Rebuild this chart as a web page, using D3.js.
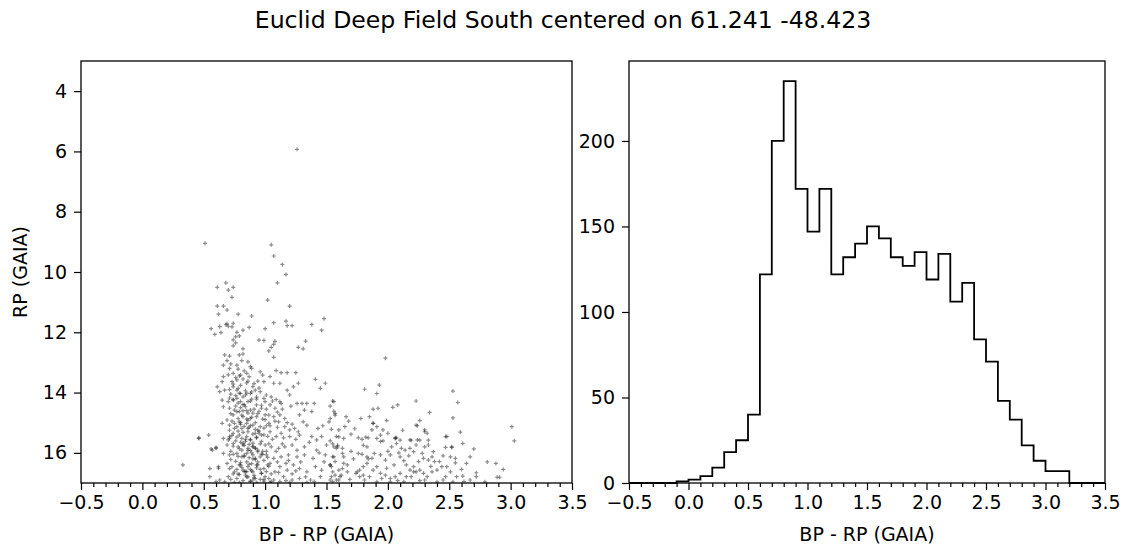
<!DOCTYPE html>
<html>
<head>
<meta charset="utf-8">
<script src="https://cdn.jsdelivr.net/npm/d3@7"></script>
<style>
  body { margin: 0; background: #fff; }
  text { font-family: "DejaVu Sans", sans-serif; fill: #000; }
</style>
</head>
<body>
<div id="chart"></div>
<script>
// ---- data ----
var title = "Euclid Deep Field South centered on 61.241 -48.423";

// colour-magnitude diagram, [BP-RP, RP]
var brightStars = [
  [1.26, 5.93], [0.51, 9.05], [1.05, 9.10], [1.07, 9.47], [1.14, 9.75], [1.17, 10.08],
  [1.10, 10.36], [0.68, 10.36], [0.61, 10.51], [0.70, 10.60], [0.74, 10.51], [0.73, 10.84],
  [1.02, 10.93], [1.20, 11.13], [0.61, 11.13], [0.66, 11.13], [0.69, 11.26], [0.62, 11.40],
  [0.78, 11.40], [0.89, 11.46], [1.48, 11.55], [0.56, 11.88], [0.59, 12.07], [0.63, 11.81],
  [0.64, 12.01], [0.68, 11.75], [0.69, 11.72], [0.70, 11.80], [0.73, 11.82], [0.74, 11.70],
  [0.82, 11.93], [0.87, 11.84], [0.77, 12.00], [0.76, 12.15], [0.79, 12.12], [0.74, 12.25],
  [0.76, 12.35], [0.74, 12.45], [1.07, 11.68], [1.17, 11.63], [1.18, 11.78], [1.22, 11.78],
  [1.38, 11.74], [1.46, 11.93], [1.00, 11.88], [0.95, 12.26], [0.99, 12.27], [1.08, 12.30],
  [1.07, 12.40], [1.05, 12.50], [1.33, 12.29], [1.27, 12.50], [1.31, 12.55], [0.82, 12.55],
  [1.98, 12.86]
];

var blueStars = [
  [0.33, 16.40], [0.46, 15.52], [0.46, 15.50], [0.54, 15.41], [0.56, 15.87], [0.60, 15.85],
  [0.55, 16.52], [0.55, 16.79], [0.62, 16.51], [0.60, 16.95], [0.63, 16.90], [0.57, 15.91],
  [0.60, 15.82], [0.62, 16.46], [0.61, 13.81], [0.63, 13.97], [0.65, 14.25], [0.65, 15.02],
  [0.66, 15.52], [0.66, 16.02], [0.65, 13.64], [0.66, 13.47], [0.66, 13.09], [0.66, 14.47]
];

var coreStars = [
  [0.67, 12.75], [0.71, 12.79], [0.69, 12.94], [0.79, 12.75], [0.82, 12.72], [0.81, 12.94],
  [0.86, 12.98], [0.88, 13.14], [0.77, 13.09], [0.71, 13.20], [0.74, 13.36], [0.80, 13.42],
  [0.85, 13.36], [0.89, 13.20], [0.96, 13.31], [0.98, 13.42], [0.99, 13.64], [0.73, 13.64],
  [0.77, 13.58], [0.67, 13.92], [0.74, 13.81], [0.77, 13.92], [0.80, 14.03], [0.82, 14.14],
  [0.77, 14.19], [0.88, 14.03], [0.92, 13.92], [0.96, 13.97], [0.99, 14.19], [0.70, 14.30],
  [0.74, 14.23], [0.80, 14.30], [0.86, 14.30], [0.71, 14.52], [0.75, 14.58], [0.79, 14.63],
  [0.84, 14.47], [0.88, 14.58], [0.93, 14.41], [0.97, 14.52], [0.74, 14.74], [0.78, 14.86],
  [0.82, 14.80], [0.88, 14.86], [0.93, 14.80], [1.00, 14.74], [0.69, 14.91], [0.71, 15.08],
  [0.77, 15.13], [0.81, 15.19], [0.85, 15.02], [0.90, 15.08], [0.96, 15.13], [0.74, 15.35],
  [0.79, 15.41], [0.85, 15.46], [0.92, 15.35], [0.97, 15.41], [0.70, 15.57], [0.71, 15.46],
  [0.69, 15.74], [0.74, 15.69], [0.78, 15.80], [0.82, 15.74], [0.86, 15.85], [0.90, 15.80],
  [0.94, 15.91], [1.00, 15.74], [0.71, 16.07], [0.77, 16.02], [0.81, 16.13], [0.85, 16.02],
  [0.90, 16.07], [0.96, 16.13], [0.69, 16.35], [0.73, 16.46], [0.75, 16.63], [0.79, 16.40],
  [0.82, 16.57], [0.86, 16.46], [0.90, 16.63], [0.94, 16.40], [0.99, 16.52], [0.70, 16.79],
  [0.77, 16.85], [0.84, 16.74], [0.92, 16.85], [1.00, 16.79], [0.67, 16.96], [0.79, 16.98],
  [0.93, 16.98],
  [0.72, 13.05], [0.78, 13.22], [0.83, 13.28], [0.70, 13.41], [0.76, 13.50], [0.82, 13.55],
  [0.87, 13.47], [0.79, 13.45], [0.74, 13.72], [0.80, 13.76], [0.85, 13.68], [0.90, 13.80],
  [0.78, 13.86], [0.71, 13.90], [0.84, 13.94], [0.94, 13.62], [0.72, 14.05], [0.76, 14.10],
  [0.79, 14.02], [0.84, 14.08], [0.71, 14.18], [0.74, 14.25], [0.78, 14.35], [0.82, 14.40],
  [0.89, 14.22], [0.93, 14.15], [0.76, 14.45], [0.80, 14.50], [0.85, 14.60], [0.90, 14.68],
  [0.77, 14.63], [0.72, 14.70], [0.81, 14.75], [0.86, 14.92], [0.95, 14.62], [0.98, 14.88],
  [0.73, 14.95], [0.79, 14.97], [0.75, 15.02], [0.80, 15.06], [0.83, 15.12], [0.87, 15.15],
  [0.92, 15.22], [0.75, 15.19], [0.71, 15.25], [0.78, 15.28], [0.82, 15.32], [0.86, 15.19],
  [0.95, 15.28], [0.99, 15.18], [0.73, 15.42], [0.77, 15.48], [0.81, 15.52], [0.88, 15.55],
  [0.93, 15.48], [0.71, 15.52], [0.76, 15.60], [0.80, 15.65], [0.84, 15.62], [0.90, 15.68],
  [0.97, 15.62], [0.74, 15.78], [0.79, 15.86], [0.81, 15.91], [0.83, 15.75], [0.88, 15.92],
  [0.92, 15.84], [0.98, 15.95], [0.72, 15.95], [0.74, 16.05], [0.78, 16.12], [0.83, 16.08],
  [0.87, 16.16], [0.92, 16.22], [0.97, 16.04], [0.72, 16.22], [0.76, 16.28], [0.80, 16.32],
  [0.85, 16.30], [0.89, 16.36], [0.94, 16.30], [0.99, 16.25], [0.71, 16.52], [0.77, 16.55],
  [0.81, 16.48], [0.84, 16.62], [0.88, 16.55], [0.93, 16.50], [0.97, 16.68], [0.74, 16.70],
  [0.79, 16.72], [0.86, 16.80], [0.91, 16.75], [0.96, 16.88], [0.72, 16.88], [0.82, 16.92],
  [0.88, 16.95], [0.99, 16.94], [0.75, 16.98], [0.85, 16.62], [0.90, 16.20]
];

// extra stars in the crowded faint part of the core
var crowdStars = [
  [0.86, 13.62], [0.91, 13.70], [0.89, 13.98], [0.85, 14.02], [0.93, 14.22], [0.88, 14.28],
  [0.83, 14.40], [0.91, 14.55], [0.86, 14.68], [0.94, 14.70], [0.89, 14.82], [0.85, 14.88],
  [0.92, 15.00], [0.88, 15.10], [0.94, 15.25], [0.86, 15.30], [0.90, 15.38], [0.84, 15.55],
  [0.88, 15.58], [0.93, 15.50], [0.96, 15.70], [0.87, 15.72], [0.90, 15.78], [0.86, 15.92],
  [0.94, 15.96], [0.89, 16.00], [0.83, 16.12], [0.92, 16.18], [0.98, 16.05], [0.87, 16.38],
  [0.93, 16.40], [0.89, 16.60], [0.97, 16.68], [0.85, 16.80], [0.91, 16.82], [0.99, 16.88],
  [0.88, 16.94], [1.01, 16.62], [1.03, 16.45], [1.01, 15.95], [1.03, 15.70], [0.99, 15.40],
  [1.01, 15.10], [1.00, 14.90], [1.03, 14.75], [0.97, 14.42], [1.00, 14.30], [0.95, 13.85],
  [0.82, 14.60], [0.80, 15.00], [0.82, 15.68], [0.80, 16.40], [0.83, 16.62], [0.78, 16.70],
  [0.95, 15.35], [0.92, 15.85], [0.96, 16.55], [0.90, 16.90], [1.05, 16.95], [1.02, 16.15]
];

var midStars = [
  [1.03, 12.62], [1.07, 12.83], [1.09, 13.27], [1.13, 13.34], [1.18, 13.34], [1.25, 13.34],
  [1.04, 13.47], [1.07, 13.69], [1.12, 13.69], [1.41, 13.56], [1.49, 13.69], [1.01, 14.08],
  [1.05, 14.14], [1.09, 14.23], [1.12, 14.30], [1.18, 13.92], [1.20, 14.08], [1.23, 13.81],
  [1.27, 13.69], [1.45, 13.86], [1.04, 14.41], [1.08, 14.52], [1.13, 14.36], [1.26, 14.36],
  [1.30, 14.36], [1.34, 14.36], [1.40, 14.36], [1.56, 14.30], [1.32, 14.58], [1.38, 14.63],
  [1.07, 14.80], [1.12, 14.74], [1.16, 14.86], [1.28, 14.74], [1.53, 14.86], [1.57, 14.69],
  [1.03, 15.02], [1.11, 14.97], [1.16, 15.13], [1.20, 15.24], [1.24, 15.19], [1.31, 14.97],
  [1.34, 15.08], [1.43, 15.19], [1.52, 14.97], [1.04, 15.30], [1.09, 15.46], [1.13, 15.35],
  [1.20, 15.46], [1.28, 15.41], [1.38, 15.46], [1.46, 15.46], [1.42, 15.57], [1.58, 15.46],
  [1.05, 15.80], [1.11, 15.85], [1.16, 15.80], [1.22, 15.74], [1.26, 15.91], [1.32, 15.80],
  [1.42, 15.91], [1.50, 15.74], [1.58, 15.85], [1.01, 16.07], [1.07, 16.18], [1.13, 16.13],
  [1.19, 16.07], [1.26, 16.13], [1.32, 16.07], [1.39, 16.18], [1.49, 16.07], [1.56, 16.13],
  [1.04, 16.35], [1.08, 16.63], [1.12, 16.46], [1.18, 16.57], [1.23, 16.40], [1.28, 16.52],
  [1.34, 16.63], [1.41, 16.46], [1.46, 16.57], [1.53, 16.40], [1.60, 16.57], [1.07, 16.90],
  [1.15, 16.79], [1.22, 16.90], [1.28, 16.85], [1.37, 16.90], [1.45, 16.79], [1.53, 16.90],
  [1.04, 16.98], [1.20, 16.98], [1.34, 16.98], [1.02, 16.40], [1.05, 16.70], [1.10, 16.30],
  [1.02, 15.45], [1.06, 15.55], [1.04, 15.10], [1.08, 14.95], [1.01, 14.55], [1.10, 14.65],
  [1.14, 15.70], [1.17, 16.35], [1.03, 16.85], [1.12, 16.95], [1.18, 15.00], [1.22, 16.70],
  [1.25, 15.55],
  [1.81, 13.89], [1.55, 14.28], [1.53, 14.45], [1.56, 14.62], [1.57, 14.75], [1.66, 14.80],
  [1.78, 14.86], [1.65, 15.13], [1.70, 15.38], [1.60, 15.24], [1.60, 15.47], [1.54, 15.22],
  [1.53, 15.60], [1.55, 15.70], [1.59, 15.80], [1.64, 15.52], [1.76, 15.50], [1.79, 15.55],
  [1.82, 15.48], [1.84, 15.50], [1.80, 15.75], [1.83, 15.80], [1.76, 16.02], [1.79, 16.05],
  [1.83, 16.13], [1.84, 16.20], [1.83, 16.35], [1.80, 16.46], [1.77, 16.57], [1.75, 16.63],
  [1.74, 16.68], [1.77, 16.79], [1.80, 16.74], [1.81, 16.90], [1.59, 15.75], [1.56, 15.80],
  [1.63, 15.85], [1.63, 16.02], [1.64, 16.13], [1.64, 16.35], [1.67, 16.40], [1.67, 16.63],
  [1.63, 16.52], [1.62, 16.74], [1.61, 16.79], [1.60, 16.90], [1.55, 16.13], [1.57, 16.29],
  [1.54, 16.46], [1.53, 16.40], [1.55, 16.63], [1.57, 16.74], [1.58, 16.90], [1.55, 16.95],
  [1.54, 16.79],
  [1.06, 14.28], [1.14, 14.55], [1.21, 14.45], [1.10, 15.15], [1.15, 15.50], [1.22, 15.05],
  [1.27, 15.30], [1.09, 15.95], [1.19, 16.25], [1.29, 16.30], [1.36, 15.65], [1.44, 16.00],
  [1.11, 16.65], [1.25, 16.60], [1.33, 16.80], [1.40, 16.95], [1.17, 16.92], [1.48, 16.30],
  [1.70, 15.95], [1.72, 16.20], [1.69, 16.88], [1.73, 15.20], [1.68, 14.95], [1.47, 15.10]
];

var redStars = [
  [1.93, 13.75], [1.91, 14.03], [1.88, 14.55], [1.92, 14.52], [2.04, 14.49], [2.08, 14.41],
  [1.99, 14.93], [2.23, 14.28], [2.34, 14.66], [2.53, 13.95], [2.57, 14.33], [2.53, 14.84],
  [1.85, 14.80], [1.88, 15.02], [1.91, 15.13], [1.87, 15.24], [1.94, 15.41], [1.91, 15.52],
  [1.96, 15.24], [2.00, 15.35], [2.06, 15.52], [2.07, 15.69], [2.10, 15.58], [2.11, 15.85],
  [2.10, 16.13], [2.13, 16.26], [2.15, 16.40], [2.18, 16.57], [2.21, 16.63], [2.19, 16.79],
  [2.15, 16.79], [2.10, 16.68], [2.06, 16.79], [2.02, 16.85], [1.98, 16.74], [1.94, 16.68],
  [1.91, 16.46], [1.88, 16.57], [1.85, 16.79], [1.98, 16.24], [2.02, 16.07], [1.94, 16.07],
  [1.89, 16.02], [1.87, 16.18], [1.99, 16.51], [2.23, 15.08], [2.26, 14.93], [2.30, 15.24],
  [2.32, 15.35], [2.33, 15.58], [2.33, 15.74], [2.30, 15.80], [2.28, 16.02], [2.29, 16.18],
  [2.33, 16.24], [2.36, 16.13], [2.38, 16.29], [2.42, 16.29], [2.44, 16.46], [2.40, 16.57],
  [2.36, 16.63], [2.32, 16.79], [2.29, 16.68], [2.26, 16.57], [2.23, 16.63], [2.21, 16.46],
  [2.25, 16.29], [2.23, 15.74], [2.26, 15.58], [2.19, 15.58], [2.18, 15.85], [2.21, 15.96],
  [2.14, 15.91], [2.48, 15.46], [2.52, 15.80], [2.51, 16.13], [2.55, 16.18], [2.55, 16.33],
  [2.48, 16.46], [2.51, 16.63], [2.47, 16.79], [2.56, 16.79], [2.59, 15.31], [2.61, 15.69],
  [2.67, 16.13], [2.70, 15.87], [2.64, 16.35], [2.72, 16.66], [2.61, 16.77], [2.79, 16.96],
  [2.81, 16.30], [2.88, 16.35], [2.94, 16.55], [2.89, 16.81], [2.91, 16.81], [3.01, 15.13],
  [3.03, 15.60], [2.72, 16.79], [2.67, 16.90], [2.53, 16.96], [2.40, 16.96], [2.26, 16.92],
  [2.13, 16.96], [2.02, 16.96], [1.91, 16.96], [2.03, 15.80], [2.09, 16.00], [2.37, 15.96],
  [2.47, 15.82], [2.52, 15.82], [2.47, 15.46], [2.30, 15.30], [2.24, 15.10], [2.18, 15.57],
  [2.24, 15.57], [2.07, 15.50], [2.06, 15.50], [1.96, 15.60], [1.94, 15.62], [1.88, 15.02],
  [2.05, 16.40], [2.17, 16.10], [2.35, 16.45], [2.45, 16.10], [2.60, 16.55], [2.08, 16.92],
  [2.30, 16.90], [2.45, 16.90], [2.62, 16.95], [2.00, 15.95], [1.95, 16.85], [2.12, 15.25]
];

// histogram of BP-RP, 0.1 wide bins from -0.5 to 3.5
var binStart = -0.5;
var binWidth = 0.1;
var binCounts = [
  0, 0, 0, 0, 1, 2, 4, 9, 18, 25,
  40, 122, 200, 235, 172, 147, 172, 122, 132, 140,
  150, 143, 132, 127, 135, 119, 134, 106, 117, 84,
  71, 48, 37, 22, 13, 7, 7, 0, 0, 0
];

var xTicks = [-0.5, 0, 0.5, 1, 1.5, 2, 2.5, 3, 3.5];
var cmdYTicks = [4, 6, 8, 10, 12, 14, 16];
var histYTicks = [0, 50, 100, 150, 200];

// ---- layout ----
var W = 1126, H = 550;
var cmdBox = { x0: 81, x1: 572, y0: 61, y1: 483 };
var histBox = { x0: 629, x1: 1105, y0: 61, y1: 483 };

var svg = d3.select("#chart").append("svg")
  .attr("width", W)
  .attr("height", H);

var fmt = d3.format(".1f");
var minorX = d3.range(-5, 36).map(function (i) { return i / 10; })
  .filter(function (v) { return Math.abs(v * 2 - Math.round(v * 2)) > 1e-6; });

function xAxisFor(g, x, box) {
  g.append("g")
    .attr("transform", "translate(0," + box.y1 + ")")
    .call(d3.axisBottom(x).tickValues(minorX).tickSize(4).tickFormat("").tickSizeOuter(0))
    .call(function (s) { s.select(".domain").remove(); });
  var ax = g.append("g")
    .attr("transform", "translate(0," + box.y1 + ")")
    .call(d3.axisBottom(x).tickValues(xTicks).tickFormat(fmt).tickSize(7).tickPadding(6).tickSizeOuter(0));
  ax.select(".domain").remove();
  ax.selectAll("text").attr("font-size", 19).attr("fill", "#000").attr("font-family", "DejaVu Sans");
  g.selectAll(".tick line").attr("stroke", "#000").attr("stroke-width", 1.2);

  g.append("text")
    .attr("x", (box.x0 + box.x1) / 2)
    .attr("y", 541)
    .attr("text-anchor", "middle")
    .attr("font-size", 19)
    .text("BP - RP (GAIA)");
}

function yAxisFor(g, y, box, ticks) {
  var ax = g.append("g")
    .attr("transform", "translate(" + box.x0 + ",0)")
    .call(d3.axisLeft(y).tickValues(ticks).tickFormat(d3.format("d")).tickSize(7).tickPadding(7).tickSizeOuter(0));
  ax.select(".domain").remove();
  ax.selectAll("line").attr("stroke", "#000").attr("stroke-width", 1.2);
  ax.selectAll("text").attr("font-size", 19).attr("fill", "#000").attr("font-family", "DejaVu Sans");
}

function frame(g, box) {
  g.append("rect")
    .attr("x", box.x0)
    .attr("y", box.y0)
    .attr("width", box.x1 - box.x0)
    .attr("height", box.y1 - box.y0)
    .attr("fill", "none")
    .attr("stroke", "#000")
    .attr("stroke-width", 1.3);
}

// title
svg.append("text")
  .attr("x", W / 2)
  .attr("y", 28)
  .attr("text-anchor", "middle")
  .attr("font-size", 23.6)
  .text(title);

// ---- left: colour-magnitude scatter ----
var xL = d3.scaleLinear().domain([-0.5, 3.5]).range([cmdBox.x0, cmdBox.x1]);
var yL = d3.scaleLinear().domain([3, 17]).range([cmdBox.y0, cmdBox.y1]);

var gL = svg.append("g");
svg.append("clipPath").attr("id", "clipL")
  .append("rect")
  .attr("x", cmdBox.x0).attr("y", cmdBox.y0)
  .attr("width", cmdBox.x1 - cmdBox.x0).attr("height", cmdBox.y1 - cmdBox.y0);

var stars = brightStars.concat(blueStars, coreStars, crowdStars, midStars, redStars);

gL.append("g")
  .attr("clip-path", "url(#clipL)")
  .selectAll("path")
  .data(stars)
  .enter()
  .append("path")
  .attr("d", "M-2,0H2M0,-2V2")
  .attr("transform", function (d) {
    return "translate(" + xL(d[0]) + "," + yL(d[1]) + ")";
  })
  .attr("stroke", "#000")
  .attr("stroke-opacity", 0.45)
  .attr("stroke-width", 1.2)
  .attr("fill", "none");

xAxisFor(gL, xL, cmdBox);
yAxisFor(gL, yL, cmdBox, cmdYTicks);
frame(gL, cmdBox);

gL.append("text")
  .attr("transform", "translate(27," + (cmdBox.y0 + cmdBox.y1) / 2 + ") rotate(-90)")
  .attr("text-anchor", "middle")
  .attr("font-size", 19)
  .text("RP (GAIA)");

// ---- right: step histogram ----
var xR = d3.scaleLinear().domain([-0.5, 3.5]).range([histBox.x0, histBox.x1]);
var yR = d3.scaleLinear().domain([0, d3.max(binCounts) * 1.05]).range([histBox.y1, histBox.y0]);

var stepPts = [{ e: binStart, c: 0 }];
binCounts.forEach(function (c, i) {
  stepPts.push({ e: binStart + i * binWidth, c: c });
});
stepPts.push({ e: binStart + binCounts.length * binWidth, c: binCounts[binCounts.length - 1] });
stepPts.push({ e: binStart + binCounts.length * binWidth, c: 0 });

var step = d3.line()
  .x(function (d) { return xR(d.e); })
  .y(function (d) { return yR(d.c); })
  .curve(d3.curveStepAfter);

var gR = svg.append("g");
gR.append("path")
  .attr("d", step(stepPts))
  .attr("fill", "none")
  .attr("stroke", "#000")
  .attr("stroke-width", 1.8);

xAxisFor(gR, xR, histBox);
yAxisFor(gR, yR, histBox, histYTicks);
frame(gR, histBox);
</script>
</body>
</html>
